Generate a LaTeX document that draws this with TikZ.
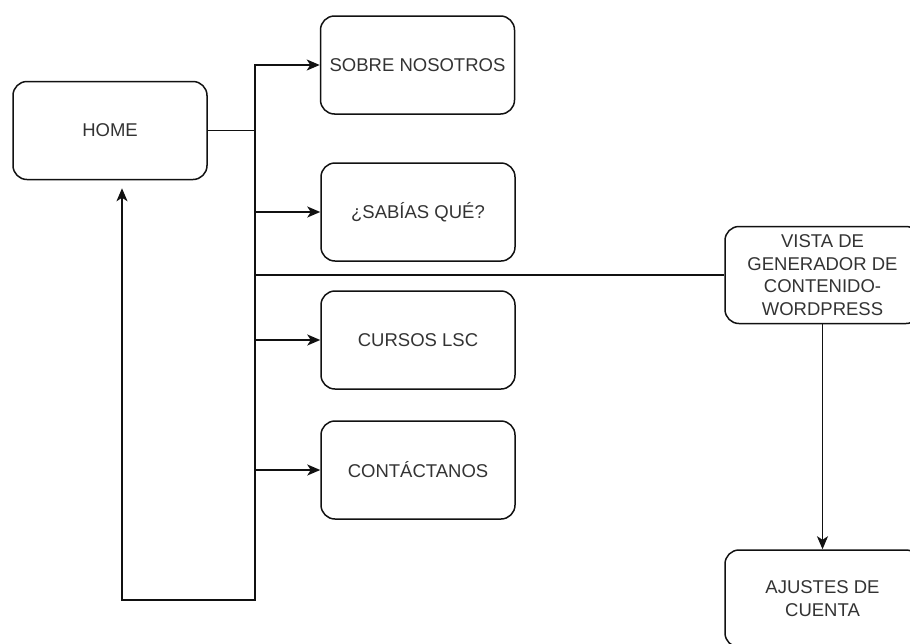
\documentclass[tikz,border=0pt]{standalone}
\usepackage{fontspec}
\setmainfont{Liberation Sans}
\usetikzlibrary{arrows.meta}
\definecolor{txt}{HTML}{333333}
\definecolor{ln}{HTML}{111111}
\begin{document}
\begin{tikzpicture}[x=1pt,y=-1pt,
  box/.style={draw=ln, line width=1.5pt, rounded corners=14pt, minimum width=194pt, minimum height=98pt,
    inner sep=0pt, align=center, text=txt, font=\fontsize{18.5}{22.5}\selectfont},
  conn/.style={draw=ln, line width=1.6pt},
  arr/.style={conn, -{Stealth[length=13pt,width=11pt,inset=3.5pt]}}]
\clip (0,0) rectangle (910,643);
\useasboundingbox (0,0) rectangle (910,643);
\node[box] (home) at (110,130.5) {HOME};
\node[box] (sobre) at (417.5,65) {SOBRE NOSOTROS};
\node[box] (sabias) at (418,212) {¿SABÍAS QUÉ?};
\node[box] (cursos) at (418,340) {CURSOS LSC};
\node[box] (contact) at (418,470) {CONTÁCTANOS};
\node[box, minimum width=195pt, minimum height=97pt] (vista) at (822.5,275) {VISTA DE\\GENERADOR DE\\CONTENIDO-\\WORDPRESS};
\node[box, minimum width=195pt, minimum height=97pt] (ajustes) at (822.5,598.5) {AJUSTES DE\\CUENTA};
\coordinate (j) at (255,130.5);
\coordinate (jb) at (255,600);
\coordinate (lb) at (122,600);
\draw[conn] (home.east) -- (j);
\draw[arr] (j) |- (sobre.west);
\draw[arr] (j) |- (sabias.west);
\draw[arr] (j) |- (cursos.west);
\draw[arr] (j) |- (contact.west);
\draw[conn] (j) |- (vista.west);
\draw[arr, shorten >=8pt] (j) -- (jb) -- (lb) -- (lb |- home.south);
\draw[arr] (vista.south) -- (ajustes.north);
\end{tikzpicture}
\end{document}
